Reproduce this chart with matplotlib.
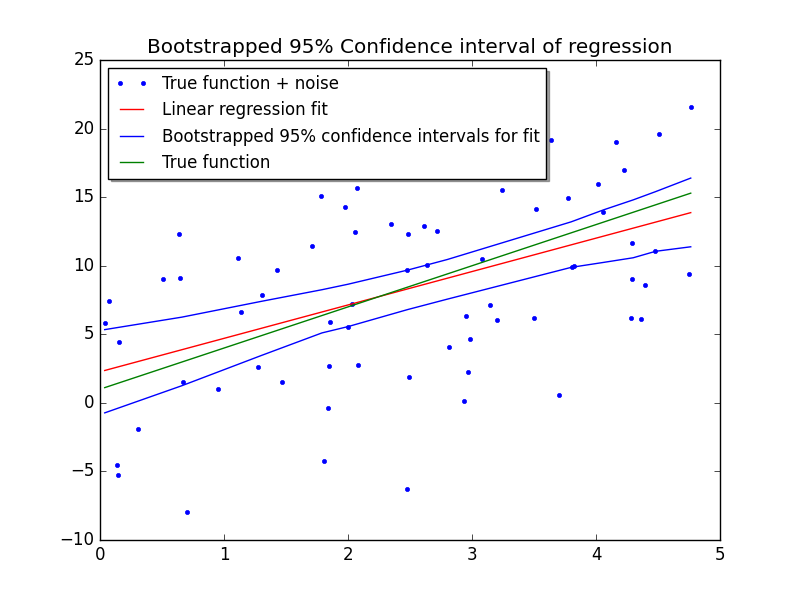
import matplotlib
matplotlib.use('Agg')
import matplotlib.pyplot as plt

plt.style.use('classic')

# noisy samples
x_data = [0.038, 0.073, 0.137, 0.148, 0.153, 0.306, 0.508, 0.637, 0.643, 0.672,
          0.702, 0.952, 1.113, 1.137, 1.274, 1.306, 1.427, 1.468, 1.71, 1.782,
          1.806, 1.836, 1.844, 1.852, 1.976, 2.0, 2.03, 2.056, 2.07, 2.08,
          2.347, 2.473, 2.476, 2.48, 2.49, 2.613, 2.637, 2.718, 2.815, 2.935,
          2.952, 2.968, 2.984, 3.084, 3.145, 3.202, 3.245, 3.5, 3.516, 3.64,
          3.702, 3.774, 3.806, 3.823, 4.016, 4.056, 4.163, 4.226, 4.282, 4.29,
          4.29, 4.363, 4.398, 4.476, 4.506, 4.75, 4.764]
y_data = [5.85, 7.46, -4.54, -5.27, 4.46, -1.90, 9.0, 12.29, 9.14, 1.54,
          -7.97, 1.02, 10.53, 6.66, 2.63, 7.83, 9.66, 1.54, 11.41, 15.07,
          -4.24, -0.37, 2.71, 5.92, 14.26, 5.56, 7.24, 12.44, 15.65, 2.78,
          13.02, -6.29, 9.68, 12.29, 1.90, 12.87, 10.02, 12.51, 4.10, 0.15,
          6.36, 2.27, 4.68, 10.48, 7.10, 6.07, 15.51, 6.22, 14.12, 19.17,
          0.59, 14.92, 9.88, 9.95, 15.95, 13.92, 19.02, 16.97, 6.22, 11.63,
          9.02, 6.14, 8.56, 11.05, 19.6, 9.36, 21.58]

# regression fit and true function
line_x = [0.038, 4.764]
fit_y = [2.36, 13.87]
true_y = [1.11, 15.29]

# bootstrapped confidence band
ci_x = [0.038, 0.66, 1.3, 1.79, 2.0, 2.48, 2.8, 3.8, 4.06, 4.3, 4.48, 4.764]
ci_hi = [5.34, 6.25, 7.4, 8.25, 8.65, 9.68, 10.45, 13.2, 14.07, 14.8, 15.4, 16.39]
ci_lo = [-0.73, 1.25, 3.45, 5.1, 5.56, 6.8, 7.56, 9.88, 10.24, 10.58, 11.05, 11.38]

fig = plt.figure(figsize=(8, 6), dpi=100, facecolor='white')
ax = fig.add_subplot(111)

ax.plot(x_data, y_data, 'b.', label='True function + noise')
ax.plot(line_x, fit_y, 'r-', label='Linear regression fit')
ax.plot(ci_x, ci_lo, 'b-', label='Bootstrapped 95% confidence intervals for fit')
ax.plot(ci_x, ci_hi, 'b-')
ax.plot(line_x, true_y, 'g-', label='True function')

ax.set_xlim(0, 5)
ax.set_ylim(-10, 25)
ax.set_title('Bootstrapped 95% Confidence interval of regression')
ax.legend(loc='upper left', shadow=True, numpoints=2, fontsize=12)

fig.savefig('out.png', dpi=100, facecolor='white')
